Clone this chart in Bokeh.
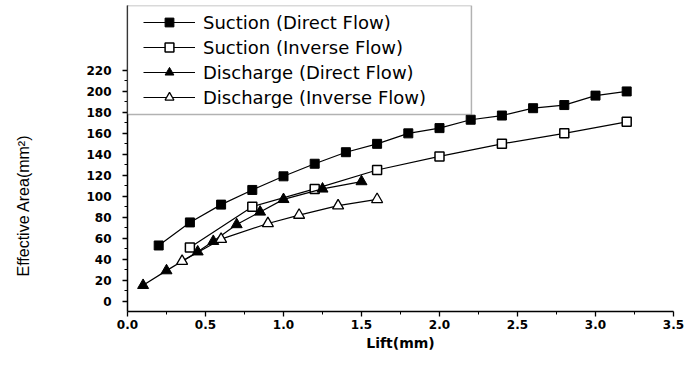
from bokeh.plotting import figure
from bokeh.models import Range1d, FixedTicker, BoxAnnotation, Div
from bokeh.layouts import row
from bokeh.embed import file_html
from bokeh.resources import INLINE

# Suction (Direct Flow)
sd_x = [0.2, 0.4, 0.6, 0.8, 1.0, 1.2, 1.4, 1.6, 1.8, 2.0, 2.2, 2.4, 2.6, 2.8, 3.0, 3.2]
sd_y = [53, 75, 92, 106, 119, 131, 142, 150, 160, 165, 173, 177, 184, 187, 196, 200]
# Suction (Inverse Flow)
si_x = [0.4, 0.8, 1.2, 1.6, 2.0, 2.4, 2.8, 3.2]
si_y = [51, 90, 107, 125, 138, 150, 160, 171]
# Discharge (Direct Flow)
dd_x = [0.1, 0.25, 0.45, 0.55, 0.7, 0.85, 1.0, 1.25, 1.5]
dd_y = [15, 29, 47, 57, 73, 85, 97, 107, 114]
# Discharge (Inverse Flow)
di_x = [0.35, 0.6, 0.9, 1.1, 1.35, 1.6]
di_y = [38, 59, 74, 82, 91, 97]

x_ticks = [0.0, 0.5, 1.0, 1.5, 2.0, 2.5, 3.0, 3.5]
x_tick_labels = ["0.0", "0.5", "1.0", "1.5", "2.0", "2.5", "3.0", "3.5"]
x_minor = [0.25, 0.75, 1.25, 1.75, 2.25, 2.75, 3.25]
y_ticks = [0, 20, 40, 60, 80, 100, 120, 140, 160, 180, 200, 220]
y_minor = [10, 30, 50, 70, 90, 110, 130, 150, 170, 190, 210]

p = figure(width=624, height=353, output_backend="svg", toolbar_location=None,
           x_range=Range1d(0, 3.5), y_range=Range1d(-10, 282),
           min_border_left=67, min_border_right=11, min_border_top=5, min_border_bottom=40)
p.grid.visible = False
p.outline_line_color = None
p.background_fill_color = "white"

# legend frame box (drawn before legend)
box = BoxAnnotation(left=0, right=2.2047, top=282, bottom=178,
                    fill_color="white", fill_alpha=1.0, line_color="black", line_width=1.5,
                    level="annotation")
p.add_layout(box)

lw = 1.2
p.line(sd_x, sd_y, line_color="black", line_width=lw, legend_label="Suction (Direct Flow)")
p.scatter(sd_x, sd_y, marker="square", size=9, fill_color="black", line_color="black",
          legend_label="Suction (Direct Flow)")
p.line(si_x, si_y, line_color="black", line_width=lw, legend_label="Suction (Inverse Flow)")
p.scatter(si_x, si_y, marker="square", size=9, fill_color="white", line_color="black",
          line_width=1.5, legend_label="Suction (Inverse Flow)")
p.line(dd_x, dd_y, line_color="black", line_width=lw, legend_label="Discharge (Direct Flow)")
p.scatter(dd_x, dd_y, marker="triangle", size=11, fill_color="black", line_color="black",
          legend_label="Discharge (Direct Flow)")
p.line(di_x, di_y, line_color="black", line_width=lw, legend_label="Discharge (Inverse Flow)")
p.scatter(di_x, di_y, marker="triangle", size=11, fill_color="white", line_color="black",
          line_width=1.3, legend_label="Discharge (Inverse Flow)")

# axes
for ax in (p.xaxis[0], p.yaxis[0]):
    ax.axis_line_color = "black"
    ax.axis_line_width = 1.5
    ax.major_tick_line_color = "black"
    ax.minor_tick_line_color = "black"
    ax.major_tick_line_width = 1.3
    ax.minor_tick_line_width = 1.0
    ax.major_tick_in = 0
    ax.major_tick_out = 5
    ax.minor_tick_in = 0
    ax.minor_tick_out = 3
    ax.major_label_text_font = "DejaVu Sans"
    ax.major_label_text_font_style = "bold"
    ax.major_label_text_font_size = "12px"
    ax.major_label_text_color = "black"

p.xaxis.ticker = FixedTicker(ticks=x_ticks, minor_ticks=x_minor)
p.xaxis.major_label_overrides = {t: l for t, l in zip(x_ticks, x_tick_labels)}
p.xaxis.major_label_standoff = 3
p.xaxis.axis_label = "Lift(mm)"
p.xaxis.axis_label_standoff = 3
p.xaxis.axis_label_text_font = "DejaVu Sans"
p.xaxis.axis_label_text_font_style = "bold"
p.xaxis.axis_label_text_font_size = "14px"
p.xaxis.axis_label_text_color = "black"
p.yaxis.ticker = FixedTicker(ticks=y_ticks, minor_ticks=y_minor)
p.yaxis.major_label_standoff = 11

leg = p.legend[0]
leg.location = (16, 203)
leg.padding = 0
leg.margin = 0
leg.spacing = 3
leg.glyph_width = 52
leg.glyph_height = 22
leg.label_height = 22
leg.label_standoff = 8
leg.border_line_color = None
leg.background_fill_alpha = 0
leg.label_text_font = "DejaVu Sans"
leg.label_text_font_size = "18px"
leg.label_text_color = "black"

ydiv = Div(
    text=('<div style="position:absolute;left:24px;top:206px;'
          'transform:translate(-50%,-50%) rotate(-90deg);white-space:nowrap;'
          "font-family:'Liberation Sans',Arial,sans-serif;font-size:16px;color:black;\">"
          'Effective Area(mm²)</div>'),
    width=60, height=353, margin=(0, 0, 0, 0))

layout = row(ydiv, p)
open("out.html", "w").write(file_html(layout, INLINE))
